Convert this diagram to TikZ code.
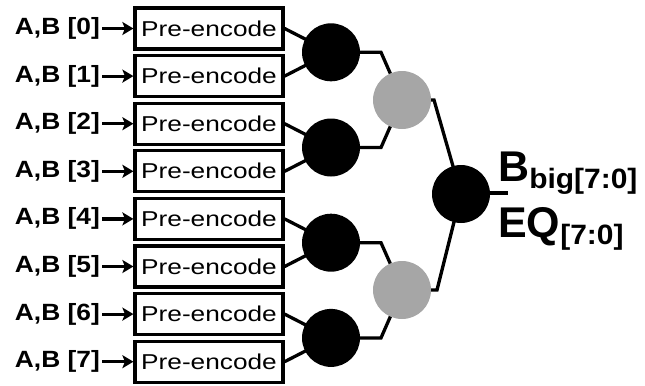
\documentclass[tikz,border=0pt]{standalone}
\usepackage{fontspec}
\usepackage{graphicx}
\setmainfont{Liberation Sans}
\usetikzlibrary{backgrounds,arrows.meta}
\newcommand{\hs}[2]{\scalebox{#1}[1]{#2}}
\begin{document}
\begin{tikzpicture}[x=1bp,y=-1bp,
 pebox/.style={draw,line width=3.2bp,minimum width=148bp,minimum height=41bp,inner sep=0pt,font=\fontsize{21.5bp}{21.5bp}\selectfont},
 inlab/.style={anchor=east,inner sep=0pt,font=\bfseries\fontsize{23.5bp}{23.5bp}\selectfont},
 blk/.style={circle,fill=black,minimum size=58bp,inner sep=0pt},
 gry/.style={circle,fill=gray!70,minimum size=58bp,inner sep=0pt},
 wire/.style={line width=3.3bp},
 arr/.style={line width=3.2bp,shorten <=2bp,-{Stealth[length=11bp,width=13bp,inset=2.5bp]}},
 outlab/.style={anchor=base west,inner sep=0pt,font=\bfseries\fontsize{43bp}{43bp}\selectfont}
]
\useasboundingbox (0,0) rectangle (645,385);
\foreach \i in {0,...,7}{
  \pgfmathsetmacro\yc{28.5+47.6*\i}
  \node[pebox] (p\i) at (209,\yc) {\hs{1.22}{Pre-encode}};
  \node[inlab] (l\i) at (100,\yc) {\hs{1.12}{A,B [\i]}};
  \draw[arr] (l\i.east) -- (p\i.west);
}
% first level
\node[blk] (a0) at (331,52.3) {};
\node[blk] (a1) at (331,147.5) {};
\node[blk] (a2) at (331,242.7) {};
\node[blk] (a3) at (331,337.9) {};
% second level
\node[gry] (g0) at (402,100) {};
\node[gry] (g1) at (402,290) {};
% final
\node[blk] (f) at (461,194) {};
\coordinate (o) at (508,193);
\node[outlab] (bout) at (498,181) {B{\fontsize{28bp}{28bp}\selectfont\raisebox{-7bp}{\hs{1.07}{big[7:0]}}}};
\node[outlab] (eqout) at (498,237) {EQ{\fontsize{28bp}{28bp}\selectfont\raisebox{-7bp}{\hs{1.07}{[7:0]}}}};
\begin{pgfonlayer}{background}
\draw[wire] (p0.east) -- (a0.center);
\draw[wire] (p1.east) -- (a0.center);
\draw[wire] (p2.east) -- (a1.center);
\draw[wire] (p3.east) -- (a1.center);
\draw[wire] (p4.east) -- (a2.center);
\draw[wire] (p5.east) -- (a2.center);
\draw[wire] (p6.east) -- (a3.center);
\draw[wire] (p7.east) -- (a3.center);
\draw[wire] (a0.center) -- (381,52.3) -- (g0.center);
\draw[wire] (a1.center) -- (381,147.5) -- (g0.center);
\draw[wire] (a2.center) -- (381,242.7) -- (g1.center);
\draw[wire] (a3.center) -- (381,337.9) -- (g1.center);
\draw[wire] (g0.center) -- (434,100) -- (f.center);
\draw[wire] (g1.center) -- (437,290) -- (f.center);
\draw[wire] (f.center) |- (o);
\end{pgfonlayer}
\end{tikzpicture}
\end{document}
